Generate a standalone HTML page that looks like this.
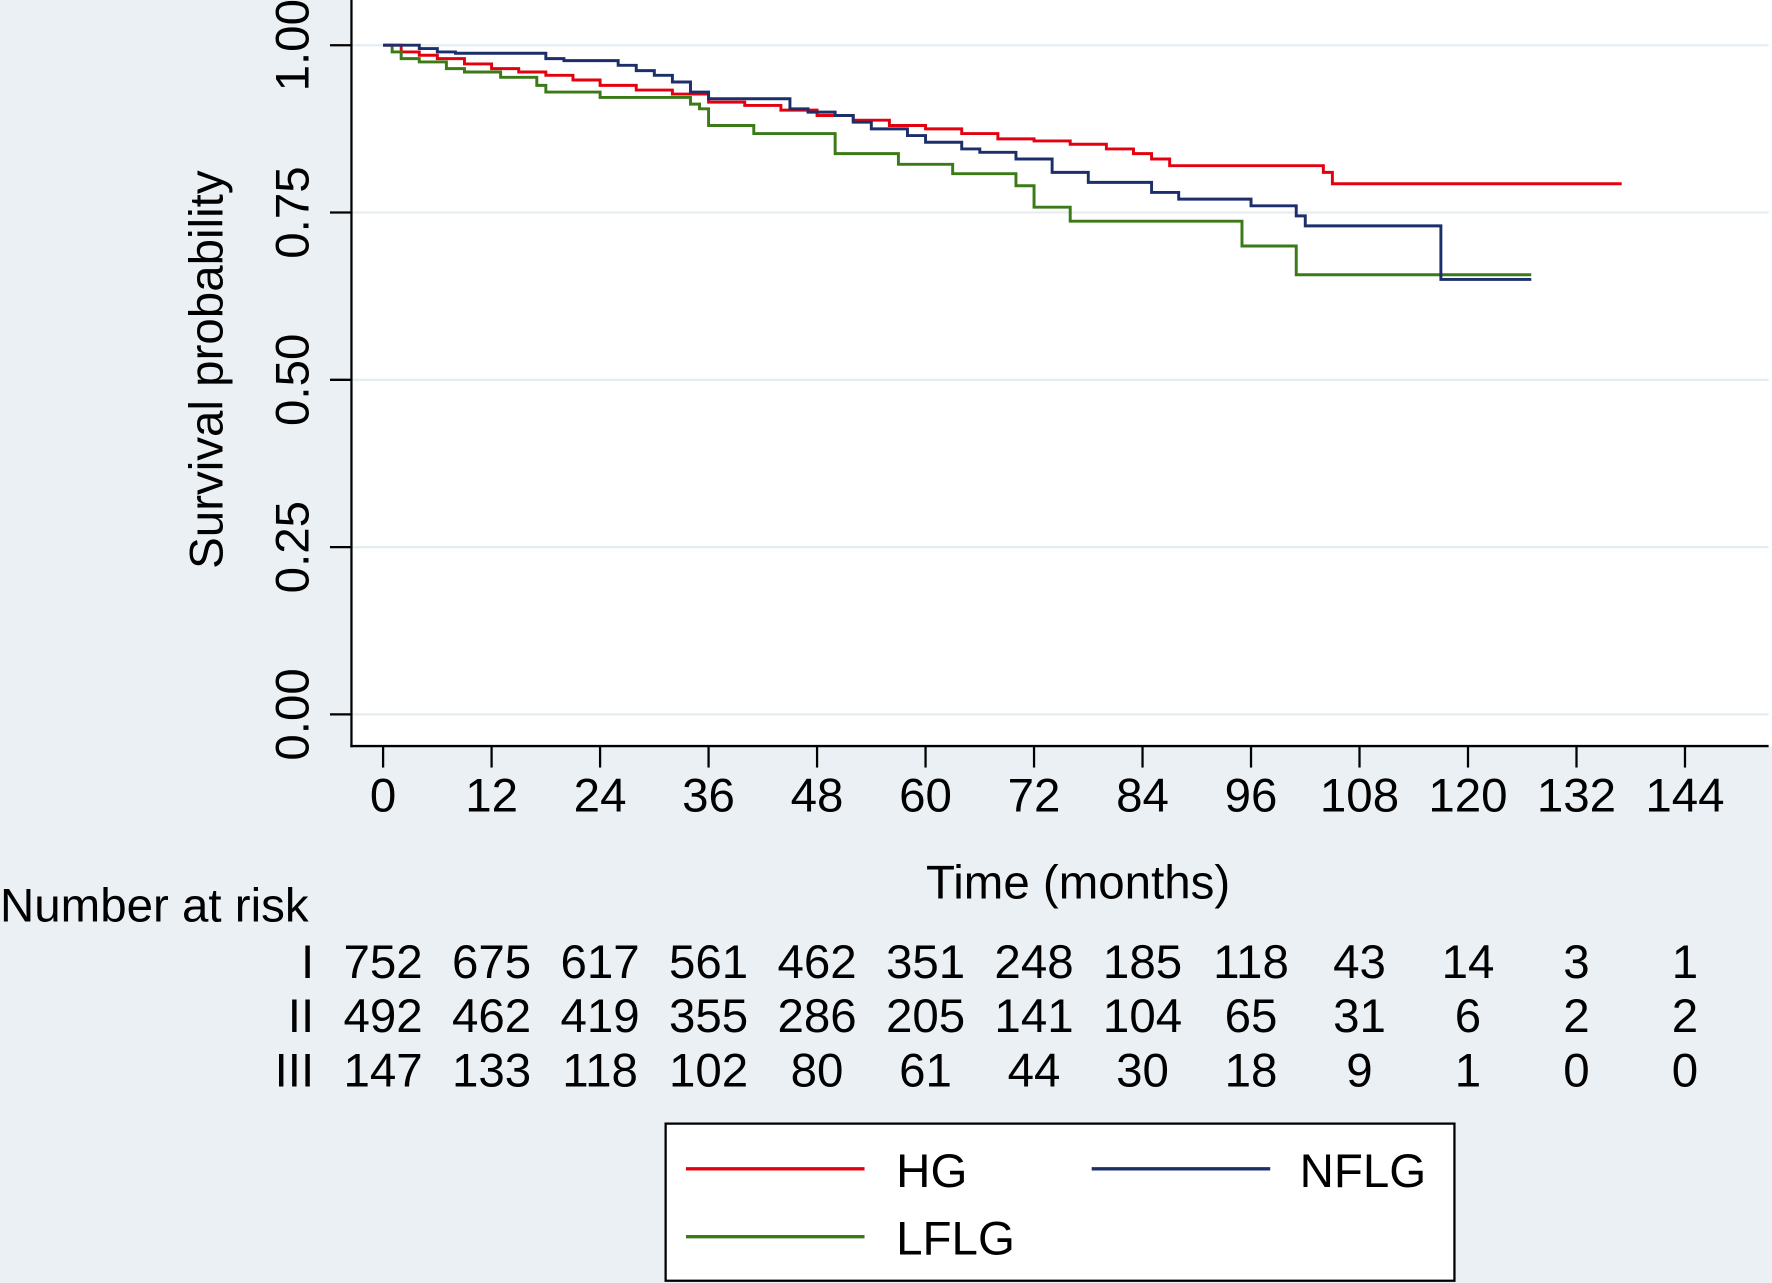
<!DOCTYPE html>
<html><head><meta charset="utf-8"><style>
html,body{margin:0;padding:0;background:#eaf0f3;}
svg{display:block;font-family:"Liberation Sans",Arial,sans-serif;}
</style></head><body>
<svg id="chart" width="1772" height="1283" viewBox="0 0 1568 1135" preserveAspectRatio="none" xmlns="http://www.w3.org/2000/svg">
<rect x="0" y="0" width="1568" height="1135" fill="#eaf0f3"/>
<rect x="311" y="0" width="1257" height="660" fill="#ffffff"/>
<g id="grid"></g>
<g id="series"></g>
<line x1="311" y1="0" x2="311" y2="661" stroke="#000" stroke-width="2"/>
<line x1="310" y1="660" x2="1565" y2="660" stroke="#000" stroke-width="2"/>
<g id="yticks"></g>
<g id="xticks"></g>
<text x="197" y="327" font-size="42" text-anchor="middle" transform="rotate(-90 197 327)">Survival probability</text>
<text x="954" y="795" font-size="42" text-anchor="middle">Time (months)</text>
<text x="0" y="815" font-size="42">Number at risk</text>
<g id="risk"></g>
<g>
<rect x="589" y="994" width="698" height="139" fill="#fff" stroke="#000" stroke-width="2"/>
<line x1="607" y1="1034" x2="765" y2="1034" stroke="#e3000f" stroke-width="3"/>
<text x="793" y="1050" font-size="42">HG</text>
<line x1="966" y1="1034" x2="1124" y2="1034" stroke="#1d2f6b" stroke-width="3"/>
<text x="1150" y="1050" font-size="42">NFLG</text>
<line x1="607" y1="1094" x2="765" y2="1094" stroke="#3a7a17" stroke-width="3"/>
<text x="793" y="1110" font-size="42">LFLG</text>
</g>
</svg>
<script>
const xTicks=[0,12,24,36,48,60,72,84,96,108,120,132,144];
const yTicks=[0,0.25,0.5,0.75,1];
const yTickLabels=["0.00","0.25","0.50","0.75","1.00"];
const hgTime=[0,2,4,6,9,12,15,18,21,24,28,32,36,40,44,48,52,56,60,64,68,72,76,80,83,85,87,104,105,137];
const hgSurv=[1,0.99,0.985,0.98,0.972,0.965,0.96,0.955,0.948,0.94,0.933,0.927,0.915,0.91,0.903,0.895,0.888,0.88,0.875,0.868,0.86,0.857,0.852,0.845,0.838,0.83,0.82,0.81,0.793,0.793];
const nfTime=[0,4,6,8,18,20,26,28,30,32,34,36,45,47,50,52,54,58,60,64,66,70,74,78,85,88,95,96,101,102,117,117,127];
const nfSurv=[1,0.995,0.99,0.988,0.98,0.977,0.97,0.962,0.955,0.945,0.93,0.92,0.905,0.9,0.895,0.885,0.875,0.865,0.855,0.845,0.84,0.83,0.81,0.795,0.78,0.77,0.77,0.76,0.745,0.73,0.73,0.65,0.65];
const lfTime=[0,1,2,4,7,9,13,17,18,24,34,35,36,41,50,57,63,70,72,76,95,95,101,101,127];
const lfSurv=[1,0.99,0.98,0.975,0.965,0.96,0.952,0.94,0.93,0.922,0.912,0.905,0.88,0.868,0.838,0.822,0.808,0.79,0.758,0.737,0.737,0.70,0.70,0.657,0.657];
const riskTimes=[0,12,24,36,48,60,72,84,96,108,120,132,144];
const riskI=[752,675,617,561,462,351,248,185,118,43,14,3,1];
const riskII=[492,462,419,355,286,205,141,104,65,31,6,2,2];
const riskIII=[147,133,118,102,80,61,44,30,18,9,1,0,0];
const riskLabels=["I","II","III"];

const NS="http://www.w3.org/2000/svg";
const X=t=>339+t*8;
const Y=p=>632-p*592;
function mk(tag,attrs,parent,txt){const e=document.createElementNS(NS,tag);for(const k in attrs)e.setAttribute(k,attrs[k]);if(txt!==undefined)e.textContent=txt;parent.appendChild(e);return e;}
const grid=document.getElementById('grid'),yt=document.getElementById('yticks'),xt=document.getElementById('xticks'),ser=document.getElementById('series'),risk=document.getElementById('risk');
yTicks.forEach((v,i)=>{
  const g=mk('line',{x1:312,x2:1565,y1:Y(v),y2:Y(v),stroke:'#e6edf0','stroke-width':2},grid);
  
  
  const t=mk('line',{x1:292,x2:311,y1:Y(v),y2:Y(v),stroke:'#000','stroke-width':2},yt);
  
  
  const l=mk('text',{x:273,y:Y(v),'font-size':42,'text-anchor':'middle',transform:`rotate(-90 273 ${Y(v)})`},yt,yTickLabels[i]);
  
  
});
xTicks.forEach(v=>{
  const t=mk('line',{x1:X(v),x2:X(v),y1:660,y2:679,stroke:'#000','stroke-width':2},xt);
  
  
  const l=mk('text',{x:X(v),y:718,'font-size':42,'text-anchor':'middle'},xt,String(v));
  
  
});
function step(ts,ss){let d=`M${X(ts[0])},${Y(ss[0])}`;for(let i=1;i<ts.length;i++){d+=`H${X(ts[i])}V${Y(ss[i])}`;}return d;}
[[hgTime,hgSurv,'#e3000f','curve-hg'],[lfTime,lfSurv,'#3a7a17','curve-lflg'],[nfTime,nfSurv,'#1d2f6b','curve-nflg']].forEach(s=>{
  const p=mk('path',{d:step(s[0],s[1]),fill:'none',stroke:s[2],'stroke-width':2.6},ser);
  
  
});
[riskI,riskII,riskIII].forEach((row,r)=>{
  const y=865+r*48;
  const lb=mk('text',{x:278,y:y,'font-size':42,'text-anchor':'end'},risk,riskLabels[r]);
  
  
  row.forEach((v,i)=>{
    const t=mk('text',{x:X(riskTimes[i]),y:y,'font-size':42,'text-anchor':'middle'},risk,String(v));
    
    
  });
});
</script>
</body></html>
